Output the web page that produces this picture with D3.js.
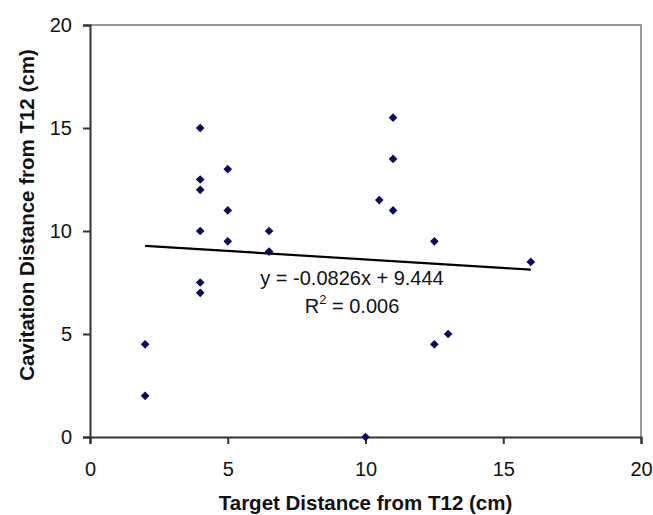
<!DOCTYPE html>
<html lang="en">
<head>
<meta charset="UTF-8" />
<title>Cavitation vs Target Distance</title>
<script src="https://d3js.org/d3.v7.min.js"></script>
<style>
  body {
    margin: 0;
    background: #fff;
    font-family: 'Liberation Sans', Arial, sans-serif;
  }
  svg { display: block; }
  .tick text { font-size: 20px; fill: #111; }
  .axis-title { font-size: 20.5px; font-weight: bold; fill: #111; }
  .fit-label { font-size: 20px; fill: #111; }
</style>
</head>
<body>
<div id="chart"></div>

<script>
// target distance (x) and cavitation distance (y), both cm
const targetDist = [4, 5, 4, 4, 5, 4, 5, 6.5, 6.5, 4, 4,
                    11, 11, 10.5, 11, 12.5, 16, 12.5, 13,
                    2, 2, 10];
const cavDist    = [15, 13, 12.5, 12, 11, 10, 9.5, 10, 9, 7.5, 7,
                    15.5, 13.5, 11.5, 11, 9.5, 8.5, 4.5, 5,
                    4.5, 2, 0];
const xTicks = [0, 5, 10, 15, 20];
const yTicks = [0, 5, 10, 15, 20];
// linear trendline from the chart
const slope = -0.0826, intercept = 9.444, r2 = 0.006;
const fitRange = [2, 16];

const width = 653, height = 515;
const margin = { top: 25, right: 12, bottom: 78, left: 90 };

const svg = d3.select("#chart").append("svg")
  .attr("width", width)
  .attr("height", height);

const x = d3.scaleLinear().domain([0, 20]).range([margin.left, width - margin.right]);
const y = d3.scaleLinear().domain([0, 20]).range([height - margin.bottom, margin.top]);

// top and right frame (gray)
svg.append("path")
  .attr("d", `M${x(0)},${y(20)}H${x(20)}V${y(0)}`)
  .attr("fill", "none")
  .attr("stroke", "#999")
  .attr("stroke-width", 2);

// axes
const xAxis = svg.append("g")
  .attr("transform", `translate(0,${y(0)})`)
  .call(d3.axisBottom(x).tickValues(xTicks).tickSize(7).tickPadding(18));
const yAxis = svg.append("g")
  .attr("transform", `translate(${x(0)},0)`)
  .call(d3.axisLeft(y).tickValues(yTicks).tickSize(7).tickPadding(11));

[xAxis, yAxis].forEach(g => {
  g.select(".domain").attr("stroke", "#333").attr("stroke-width", 2);
  g.selectAll(".tick line").attr("stroke", "#333").attr("stroke-width", 2);
  g.selectAll(".tick text").attr("font-family", null).attr("font-size", null);
});
xAxis.selectAll(".tick text").attr("dy", "0.71em");

// trendline
svg.append("line")
  .attr("x1", x(fitRange[0])).attr("y1", y(slope * fitRange[0] + intercept))
  .attr("x2", x(fitRange[1])).attr("y2", y(slope * fitRange[1] + intercept))
  .attr("stroke", "#000")
  .attr("stroke-width", 2.2);

// points
const diamond = d3.symbol().type(d3.symbolDiamond2).size(48);
svg.append("g").selectAll("path")
  .data(targetDist.map((d, i) => [d, cavDist[i]]))
  .join("path")
  .attr("d", diamond)
  .attr("transform", d => `translate(${x(d[0])},${y(d[1])})`)
  .attr("fill", "#0b0b5e");

// equation label
const lx = 352;
svg.append("text")
  .attr("class", "fit-label")
  .attr("x", lx).attr("y", 285)
  .attr("text-anchor", "middle")
  .text(`y = ${slope}x + ${intercept}`);
const r2Text = svg.append("text")
  .attr("class", "fit-label")
  .attr("x", lx).attr("y", 313)
  .attr("text-anchor", "middle");
r2Text.append("tspan").text("R");
r2Text.append("tspan").attr("dy", -9).attr("font-size", "13px").text("2");
r2Text.append("tspan").attr("dy", 9).text(` = ${r2.toFixed(3)}`);

// axis titles
svg.append("text")
  .attr("class", "axis-title")
  .attr("x", (x(0) + x(20)) / 2)
  .attr("y", 510)
  .attr("text-anchor", "middle")
  .text("Target Distance from T12 (cm)");

svg.append("text")
  .attr("class", "axis-title")
  .attr("transform", `translate(34,215) rotate(-90)`)
  .attr("text-anchor", "middle")
  .text("Cavitation Distance from T12 (cm)");
</script>
</body>
</html>
